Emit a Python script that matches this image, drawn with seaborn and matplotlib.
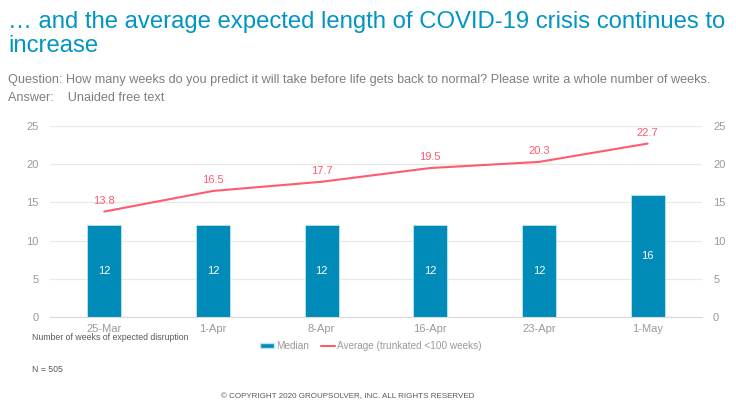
import pandas as pd
import seaborn as sns
import numpy as np
import matplotlib.pyplot as plt
from matplotlib.patches import Patch
from matplotlib.lines import Line2D

dates = ["25-Mar", "1-Apr", "8-Apr", "16-Apr", "23-Apr", "1-May"]
median_weeks = [12, 12, 12, 12, 12, 16]
average_weeks = [13.8, 16.5, 17.7, 19.5, 20.3, 22.7]

blue = "#008bb9"
pink = "#ff5a70"
grey = "#9a9a9a"

df = pd.DataFrame({"date": dates, "median": median_weeks, "average": average_weeks})

sns.set_style("white")
plt.rcParams["font.family"] = ["Liberation Sans", "DejaVu Sans"]

fig = plt.figure(figsize=(7.36, 4.09), dpi=100)
ax = fig.add_axes([50 / 736, 1 - 317 / 409, 652 / 736, 191 / 409])

sns.barplot(data=df, x="date", y="median", color=blue, width=0.31,
            saturation=1, ax=ax, edgecolor="#bfe6f2", linewidth=0.6)
sns.pointplot(data=df, x="date", y="average", color=pink, markersize=0,
              linewidth=1.5, ax=ax)

ax.set_ylim(0, 25)
ax.set_xlim(-0.5, len(dates) - 0.5)
ax.set_yticks([0, 5, 10, 15, 20, 25])
ax.grid(axis="y", color="#e8e8e8", linewidth=0.9)
ax.set_axisbelow(True)
for s in ["top", "right", "left"]:
    ax.spines[s].set_visible(False)
ax.spines["bottom"].set_color("#d9d9d9")
ax.set_xlabel("")
ax.set_ylabel("")
ax.tick_params(axis="both", colors=grey, labelsize=8, length=0)
ax.tick_params(axis="x", pad=5)
ax.tick_params(axis="y", pad=8)

# bar labels
ax.bar_label(ax.containers[0], label_type="center", color="white", fontsize=8)

# line labels
for i, v in enumerate(average_weeks):
    ax.annotate(f"{v:.1f}", (i, v), xytext=(0, 4), textcoords="offset points",
                ha="center", va="bottom", color=pink, fontsize=8)

ax2 = ax.twinx()
ax2.set_ylim(0, 25)
ax2.set_yticks([0, 5, 10, 15, 20, 25])
ax2.tick_params(axis="y", colors=grey, labelsize=8, length=0, pad=8)
for s in ax2.spines.values():
    s.set_visible(False)

fig.text(8 / 736, 1 - 11 / 409, "… and the average expected length of COVID-19 crisis continues to\nincrease",
         color="#0095c2", fontsize=17.2, va="top", ha="left", linespacing=1.12)
fig.text(8 / 736, 1 - 80 / 409,
         "Question: How many weeks do you predict it will take before life gets back to normal? Please write a whole number of weeks.",
         color="#7f7f7f", fontsize=9.1, va="center", ha="left")
fig.text(8 / 736, 1 - 98 / 409, "Answer:    Unaided free text",
         color="#7f7f7f", fontsize=9.1, va="center", ha="left")

fig.text(32 / 736, 1 - 337 / 409, "Number of weeks of expected disruption",
         color="#595959", fontsize=6.3, va="center", ha="left")
fig.text(32 / 736, 1 - 370 / 409, "N = 505",
         color="#595959", fontsize=6.3, va="center", ha="left")
fig.text(348 / 736, 1 - 397 / 409, "© COPYRIGHT 2020 GROUPSOLVER, INC. ALL RIGHTS RESERVED",
         color="#595959", fontsize=5.8, va="center", ha="center")

handles = [Patch(facecolor=blue, edgecolor="#bfe6f2"),
           Line2D([0], [0], color=pink, linewidth=1.5)]
fig.legend(handles, ["Median", "Average (trunkated <100 weeks)"],
           loc="center", bbox_to_anchor=(371 / 736, 1 - 346 / 409), ncol=2,
           frameon=False, fontsize=7.2, labelcolor=grey, handlelength=1.4,
           handletextpad=0.2, columnspacing=1.2, handleheight=0.5)

fig.savefig("out.png", dpi=100)
